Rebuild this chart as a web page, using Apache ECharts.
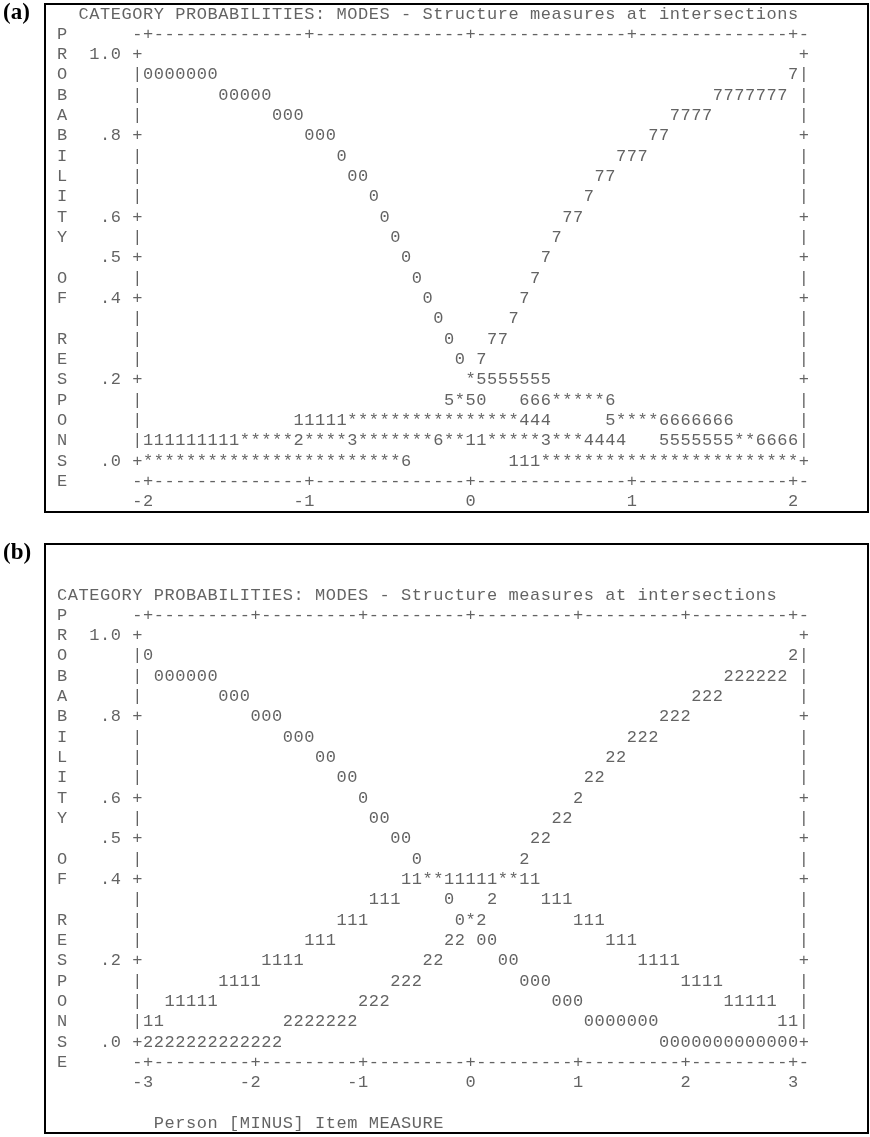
<!DOCTYPE html>
<html>
<head>
<meta charset="utf-8">
<script src="https://cdn.jsdelivr.net/npm/echarts@6/dist/echarts.min.js"></script>
<style>html,body{margin:0;padding:0;background:#fff}#c{width:870px;height:1137px}</style>
</head>
<body>
<div id="c"></div>
<script>
// ---------- data ----------
const chartTitle = "CATEGORY PROBABILITIES: MODES - Structure measures at intersections";
const yAxisWord = "PROBABILITY OF RESPONSE";
const yTickValues = [1.0, 0.8, 0.6, 0.5, 0.4, 0.2, 0.0];
const yTickLabels = ["1.0", ".8", ".6", ".5", ".4", ".2", ".0"];
const xTicksA = [-2, -1, 0, 1, 2];
const xTicksB = [-3, -2, -1, 0, 1, 2, 3];
const xLabelB = "Person [MINUS] Item MEASURE";

// plotted characters: [row, column, text]
const curvesA = [
  [3, 8, "0000000"], [3, 68, "7"],
  [4, 15, "00000"], [4, 61, "7777777"],
  [5, 20, "000"], [5, 57, "7777"],
  [6, 23, "000"], [6, 55, "77"],
  [7, 26, "0"], [7, 52, "777"],
  [8, 27, "00"], [8, 50, "77"],
  [9, 29, "0"], [9, 49, "7"],
  [10, 30, "0"], [10, 47, "77"],
  [11, 31, "0"], [11, 46, "7"],
  [12, 32, "0"], [12, 45, "7"],
  [13, 33, "0"], [13, 44, "7"],
  [14, 34, "0"], [14, 43, "7"],
  [15, 35, "0"], [15, 42, "7"],
  [16, 36, "0"], [16, 40, "77"],
  [17, 37, "0"], [17, 39, "7"],
  [18, 38, "*5555555"],
  [19, 36, "5*50"], [19, 43, "666*****6"],
  [20, 22, "11111****************444"], [20, 51, "5****6666666"],
  [21, 8, "111111111*****2****3*******6**11*****3***4444"], [21, 56, "5555555**6666"],
  [22, 8, "************************6"], [22, 42, "111************************"]
];
const curvesB = [
  [3, 8, "0"], [3, 68, "2"],
  [4, 9, "000000"], [4, 62, "222222"],
  [5, 15, "000"], [5, 59, "222"],
  [6, 18, "000"], [6, 56, "222"],
  [7, 21, "000"], [7, 53, "222"],
  [8, 24, "00"], [8, 51, "22"],
  [9, 26, "00"], [9, 49, "22"],
  [10, 28, "0"], [10, 48, "2"],
  [11, 29, "00"], [11, 46, "22"],
  [12, 31, "00"], [12, 44, "22"],
  [13, 33, "0"], [13, 43, "2"],
  [14, 32, "11**11111**11"],
  [15, 29, "111"], [15, 36, "0"], [15, 40, "2"], [15, 45, "111"],
  [16, 26, "111"], [16, 37, "0*2"], [16, 48, "111"],
  [17, 23, "111"], [17, 36, "22"], [17, 39, "00"], [17, 51, "111"],
  [18, 19, "1111"], [18, 34, "22"], [18, 41, "00"], [18, 54, "1111"],
  [19, 15, "1111"], [19, 31, "222"], [19, 43, "000"], [19, 58, "1111"],
  [20, 10, "11111"], [20, 28, "222"], [20, 46, "000"], [20, 62, "11111"],
  [21, 8, "11"], [21, 21, "2222222"], [21, 49, "0000000"], [21, 67, "11"],
  [22, 8, "2222222222222"], [22, 56, "0000000000000"]
];

// ---------- layout ----------
const colW = 10.75, rowH = 20.32, col0X = 62;
const boxL = 45, boxR = 868;

function buildPanel(titleCol, xTicks, colsPerUnit, curves, extra) {
  const cells = new Map();
  const put = (r, c, s) => {
    for (let i = 0; i < s.length; i++) {
      const key = r + ',' + (c + i);
      if (s[i] === ' ') cells.delete(key); else cells.set(key, [c + i, r, s[i]]);
    }
  };
  put(0, titleCol, chartTitle);
  for (let i = 0; i < yAxisWord.length; i++) put(1 + i, 0, yAxisWord[i]);
  const tickRows = new Set();
  yTickValues.forEach((v, i) => {
    const r = 2 + Math.round((1 - v) * 20);
    tickRows.add(r);
    put(r, 6 - yTickLabels[i].length, yTickLabels[i]);
  });
  for (let r = 2; r <= 22; r++) {
    const ch = tickRows.has(r) ? '+' : '|';
    put(r, 7, ch); put(r, 69, ch);
  }
  const tickCols = new Set(xTicks.map(v => 8 + (v - xTicks[0]) * colsPerUnit));
  let line = '-';
  for (let c = 8; c <= 68; c++) line += tickCols.has(c) ? '+' : '-';
  line += '-';
  put(1, 7, line); put(23, 7, line);
  xTicks.forEach(v => {
    const c = 8 + (v - xTicks[0]) * colsPerUnit;
    const s = String(v);
    put(24, c - s.length + 1, s);
  });
  curves.forEach(([r, c, s]) => put(r, c, s));
  if (extra) extra.forEach(([r, c, s]) => put(r, c, s));
  return Array.from(cells.values());
}

const dataA = buildPanel(2, xTicksA, 15, curvesA);
const dataB = buildPanel(0, xTicksB, 10, curvesB, [[26, 9, xLabelB]]);

const xMin = (boxL - col0X) / colW, xMax = (boxR - col0X) / colW;
const panelA = {top: 4, bottom: 512, row0: 14};
const panelB = {top: 544, bottom: 1133, row0: 595};

const charLabel = {
  show: true, position: 'inside',
  formatter: p => p.data[2],
  fontFamily: 'Liberation Mono', fontSize: 17, color: '#3c3c3c',
  textBorderWidth: 0
};
function charSeries(idx, data) {
  return {
    type: 'scatter', xAxisIndex: idx, yAxisIndex: idx, data: data,
    symbol: 'circle', symbolSize: 1, itemStyle: {color: 'rgba(0,0,0,0)'},
    label: charLabel, silent: true, emphasis: {disabled: true}
  };
}
const panelLabel = {fontFamily: 'Liberation Serif', fontWeight: 'bold', fontSize: 23, color: '#000'};

const chart = echarts.init(document.getElementById('c'), null, {renderer: 'canvas'});
chart.setOption({
  animation: false,
  title: [
    {text: '(a)', left: 3, top: 2, padding: 0, textStyle: panelLabel},
    {text: '(b)', left: 3, top: 542, padding: 0, textStyle: panelLabel}
  ],
  grid: [panelA, panelB].map(p => ({
    left: boxL, width: boxR - boxL, top: p.top, height: p.bottom - p.top,
    show: true, borderColor: '#000', borderWidth: 2, backgroundColor: 'transparent'
  })),
  xAxis: [0, 1].map(i => ({gridIndex: i, type: 'value', min: xMin, max: xMax, show: false})),
  yAxis: [panelA, panelB].map((p, i) => ({
    gridIndex: i, type: 'value', inverse: true, show: false,
    min: (p.top - p.row0) / rowH, max: (p.bottom - p.row0) / rowH
  })),
  series: [charSeries(0, dataA), charSeries(1, dataB)]
});
</script>
</body>
</html>
